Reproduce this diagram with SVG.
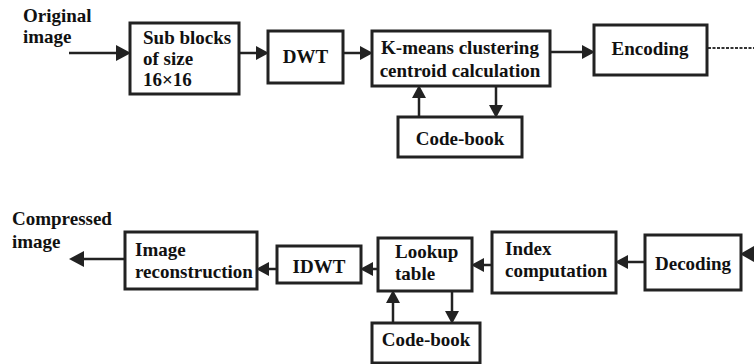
<svg xmlns="http://www.w3.org/2000/svg" width="754" height="364" viewBox="0 0 754 364">
<style>
.box{fill:#fff;stroke:#222;stroke-width:3}
.t{font-family:"Liberation Serif","Times New Roman",serif;font-size:19px;font-weight:bold;fill:#111}
.c{text-anchor:middle}
.ln{stroke:#222;stroke-width:2.5;fill:none}
.hd{fill:#222}
</style>
<rect width="754" height="364" fill="#fff"/>
<g id="connectors">
<line class="ln" x1="69" y1="53" x2="120" y2="53"/>
<path class="hd" d="M131,53 L116,45 L116,61 z"/>
<line class="ln" x1="239" y1="53" x2="258" y2="53"/>
<path class="hd" d="M269,53 L256,46 L256,60 z"/>
<line class="ln" x1="343" y1="53" x2="362" y2="53"/>
<path class="hd" d="M373,53 L360,46 L360,60 z"/>
<line class="ln" x1="550" y1="52" x2="584" y2="52"/>
<path class="hd" d="M595,52 L582,45 L582,59 z"/>
<line x1="708" y1="48" x2="754" y2="48" stroke="#333" stroke-width="2.2" stroke-dasharray="3,1.5"/>
<line class="ln" x1="419" y1="117" x2="419" y2="96"/>
<path class="hd" d="M419,85 L412,98 L426,98 z"/>
<line class="ln" x1="496" y1="86" x2="496" y2="107"/>
<path class="hd" d="M496,118 L489,105 L503,105 z"/>
<line class="ln" x1="125" y1="259" x2="80" y2="259"/>
<path class="hd" d="M69,259 L84,251 L84,267 z"/>
<line class="ln" x1="277" y1="269" x2="267" y2="269"/>
<path class="hd" d="M256,269 L269,262 L269,276 z"/>
<line class="ln" x1="378" y1="269" x2="371" y2="269"/>
<path class="hd" d="M360,269 L373,262 L373,276 z"/>
<line class="ln" x1="492" y1="265" x2="482" y2="265"/>
<path class="hd" d="M471,265 L484,258 L484,272 z"/>
<line class="ln" x1="645" y1="262" x2="626" y2="262"/>
<path class="hd" d="M615,262 L628,255 L628,269 z"/>
<path class="hd" d="M740,254 L754,246 L754,262 z"/>
<line class="ln" x1="393" y1="323" x2="393" y2="301"/>
<path class="hd" d="M393,290 L386,303 L400,303 z"/>
<line class="ln" x1="452" y1="291" x2="452" y2="313"/>
<path class="hd" d="M452,324 L445,311 L459,311 z"/>
</g>
<g id="label-original">
<text class="t" x="23" y="22">Original</text>
<text class="t" x="23" y="43">image</text>
</g>
<g id="subblocks">
<rect class="box" x="130" y="23" width="109" height="71"/>
<text class="t" x="143" y="44">Sub blocks</text>
<text class="t" x="143" y="65">of size</text>
<text class="t" x="143" y="86">16×16</text>
</g>
<g id="dwt">
<rect class="box" x="268" y="31" width="75" height="52"/>
<text class="t c" x="305.5" y="63">DWT</text>
</g>
<g id="kmeans">
<rect class="box" x="372" y="31" width="178" height="55"/>
<text class="t c" x="460" y="54">K-means clustering</text>
<text class="t c" x="460" y="77">centroid calculation</text>
</g>
<g id="encoding">
<rect class="box" x="594" y="25" width="113" height="50"/>
<text class="t c" x="650" y="55">Encoding</text>
</g>
<g id="codebook1">
<rect class="box" x="398" y="117" width="124" height="40"/>
<text class="t c" x="460" y="145">Code-book</text>
</g>
<g id="label-compressed">
<text class="t" x="12" y="225">Compressed</text>
<text class="t" x="12" y="248">image</text>
</g>
<g id="reconstruction">
<rect class="box" x="125" y="232" width="132" height="57"/>
<text class="t" x="135" y="256">Image</text>
<text class="t" x="135" y="278">reconstruction</text>
</g>
<g id="idwt">
<rect class="box" x="277" y="246" width="84" height="37"/>
<text class="t c" x="319" y="273">IDWT</text>
</g>
<g id="lookup">
<rect class="box" x="378" y="238" width="94" height="53"/>
<text class="t" x="395" y="258">Lookup</text>
<text class="t" x="395" y="280">table</text>
</g>
<g id="index">
<rect class="box" x="492" y="232" width="124" height="61"/>
<text class="t" x="505" y="255">Index</text>
<text class="t" x="505" y="277">computation</text>
</g>
<g id="decoding">
<rect class="box" x="645" y="235" width="96" height="55"/>
<text class="t c" x="693" y="270">Decoding</text>
</g>
<g id="codebook2">
<rect class="box" x="372" y="323" width="108" height="40"/>
<text class="t c" x="426" y="346">Code-book</text>
</g>
</svg>
